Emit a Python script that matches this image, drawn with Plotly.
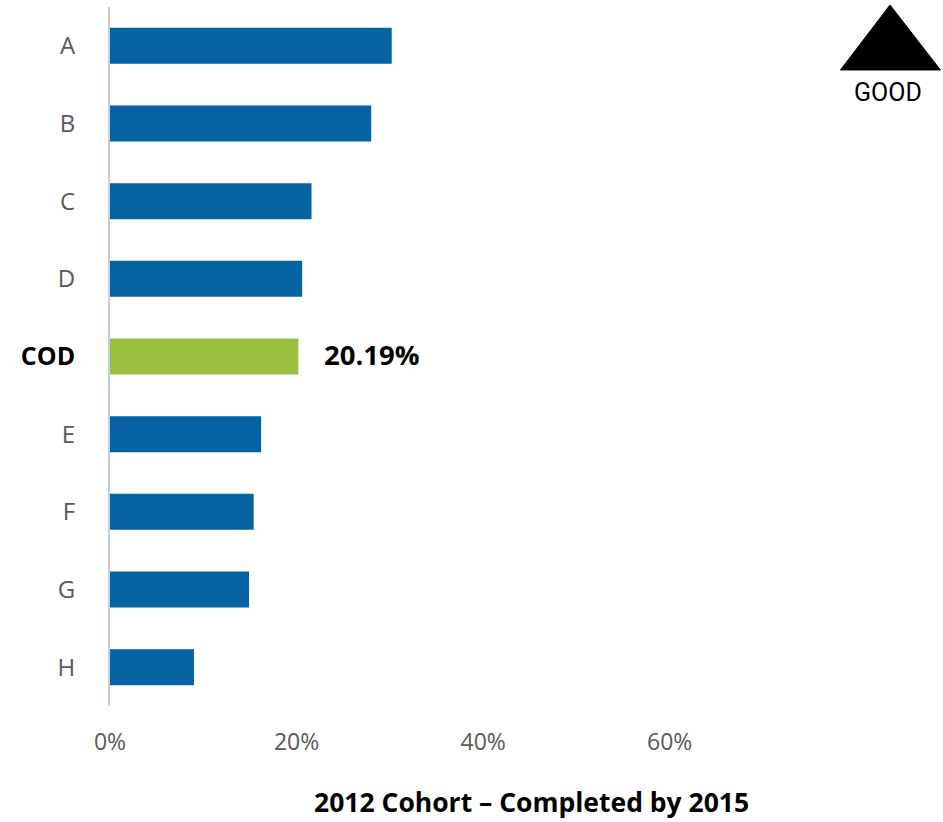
import plotly.graph_objects as go

# Share of the 2012 cohort that completed by 2015, by college (percent)
categories = ["A", "B", "C", "D", "COD", "E", "F", "G", "H"]
completion_pct = [30.2, 28.0, 21.6, 20.6, 20.19, 16.2, 15.4, 14.9, 9.0]
highlight = "COD"

x_ticks = [0, 20, 40, 60]
x_tick_labels = ["0%", "20%", "40%", "60%"]

BLUE = "#0563A1"
GREEN = "#9BBF3F"
GREY_TEXT = "#595959"
FONT = "Open Sans"

bar_colors = [GREEN if c == highlight else BLUE for c in categories]
cat_text = [
    f"<span style='font-size:25px;color:#000000'><b>{c}</b></span>" if c == highlight else c
    for c in categories
]

fig = go.Figure(
    go.Bar(
        x=completion_pct,
        y=categories,
        orientation="h",
        marker=dict(color=bar_colors, line=dict(width=0)),
        hoverinfo="skip",
    )
)

# value label next to the highlighted bar
cod_value = completion_pct[categories.index(highlight)]
fig.add_annotation(
    x=cod_value, y=highlight, xref="x", yref="y",
    text=f"<b>{cod_value:.2f}%</b>",
    showarrow=False, xanchor="left", yanchor="middle", xshift=24, yshift=2,
    font=dict(family=FONT, size=27.5, color="#000000"),
)

# axis caption under the tick labels
fig.add_annotation(
    x=0.645, y=-0.1373, xref="paper", yref="paper",
    text="<b>2012 Cohort – Completed by 2015</b>",
    showarrow=False, xanchor="center", yanchor="middle",
    font=dict(family=FONT, size=26.5, color="#000000"),
)

# "higher is better" marker in the top-right corner
fig.add_shape(
    type="path", xref="paper", yref="paper",
    path="M 1.1186 0.9099 L 1.1945 1.0029 L 1.2718 0.9099 Z",
    fillcolor="#000000", line=dict(color="#000000", width=1),
)
fig.add_annotation(
    x=1.191, y=0.877, xref="paper", yref="paper",
    text="GOOD", showarrow=False, xanchor="center", yanchor="middle",
    font=dict(family="Roboto", size=25, color="#000000"),
)

fig.update_layout(
    width=943, height=822,
    margin=dict(l=110, r=180, t=7, b=116),
    paper_bgcolor="white", plot_bgcolor="white",
    showlegend=False,
    bargap=0.537,
    xaxis=dict(
        range=[0, 70],
        tickvals=x_ticks, ticktext=x_tick_labels,
        showgrid=False, zeroline=False, showline=False,
        ticks="", ticklabelstandoff=20,
        tickfont=dict(family=FONT, size=23, color=GREY_TEXT),
    ),
    yaxis=dict(
        categoryorder="array", categoryarray=categories,
        autorange="reversed",
        tickvals=categories, ticktext=cat_text,
        showgrid=False, zeroline=False,
        showline=True, linecolor="#C3D0DE", linewidth=2,
        ticks="", ticklabelstandoff=28,
        tickfont=dict(family=FONT, size=24, color=GREY_TEXT),
    ),
)

fig.write_html("out.html")
